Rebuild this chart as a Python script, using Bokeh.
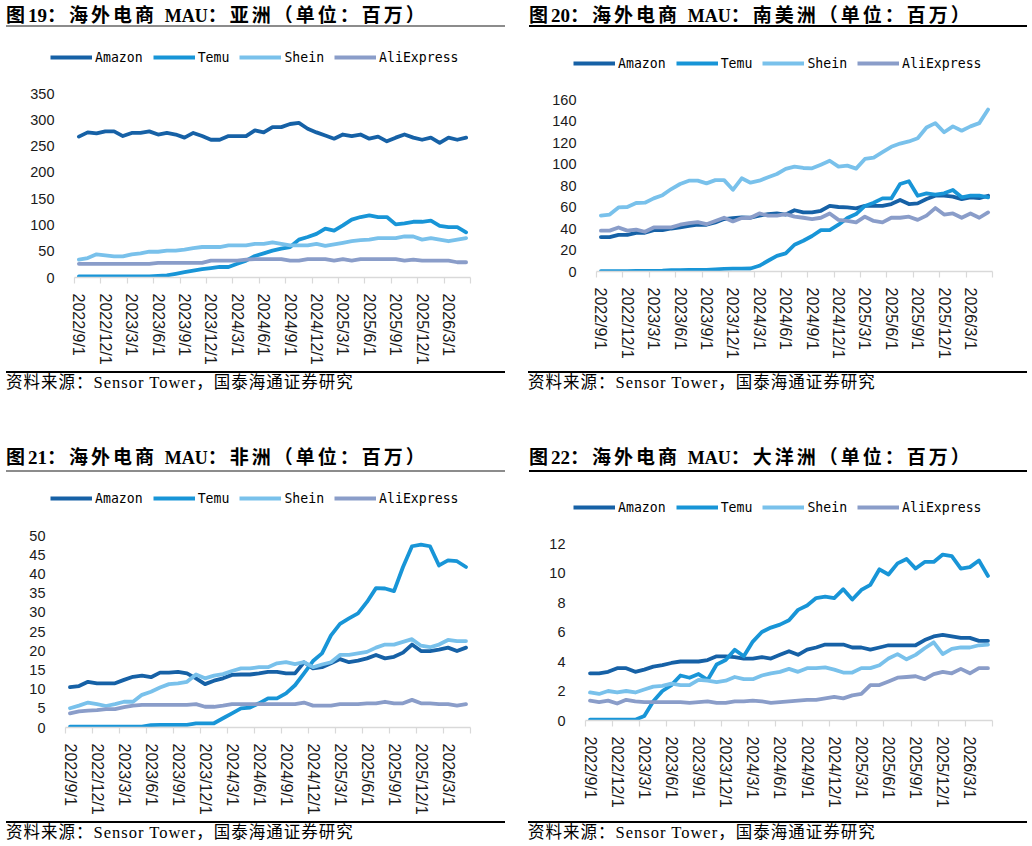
from bokeh.plotting import figure
from bokeh.models import Range1d, FixedTicker, Legend, LegendItem, Div, Spacer, ColumnDataSource
from bokeh.layouts import column, row
from bokeh.embed import file_html
from bokeh.resources import INLINE

# ---------------- data ----------------
months = ["2022/9/1", "2022/10/1", "2022/11/1", "2022/12/1",
          "2023/1/1", "2023/2/1", "2023/3/1", "2023/4/1", "2023/5/1", "2023/6/1",
          "2023/7/1", "2023/8/1", "2023/9/1", "2023/10/1", "2023/11/1", "2023/12/1",
          "2024/1/1", "2024/2/1", "2024/3/1", "2024/4/1", "2024/5/1", "2024/6/1",
          "2024/7/1", "2024/8/1", "2024/9/1", "2024/10/1", "2024/11/1", "2024/12/1",
          "2025/1/1", "2025/2/1", "2025/3/1", "2025/4/1", "2025/5/1", "2025/6/1",
          "2025/7/1", "2025/8/1", "2025/9/1", "2025/10/1", "2025/11/1", "2025/12/1",
          "2026/1/1", "2026/2/1", "2026/3/1", "2026/4/1", "2026/5/1"]

series_names = ["Amazon", "Temu", "Shein", "AliExpress"]

asia_amazon = [268, 276, 274, 278, 278, 269, 275, 275, 278, 272, 275, 272, 266, 275, 269,
               262, 262, 269, 269, 269, 280, 276, 286, 286, 292, 294, 283, 276, 270, 264,
               272, 269, 272, 264, 268, 259, 266, 272, 266, 262, 266, 256, 266, 262, 266]
asia_temu = [2, 2, 2, 2, 2, 2, 2, 2, 2, 3, 4, 7, 10, 13, 16,
             18, 20, 20, 26, 32, 41, 46, 51, 55, 58, 72, 77, 83, 93, 89,
             99, 110, 115, 118, 115, 115, 101, 103, 106, 106, 108, 98, 96, 96, 86]
asia_shein = [34, 37, 44, 42, 40, 40, 44, 46, 49, 49, 51, 51, 53, 56, 58,
              58, 58, 61, 61, 61, 64, 64, 67, 64, 61, 61, 61, 64, 60, 63,
              66, 69, 71, 72, 75, 75, 75, 78, 78, 72, 75, 72, 69, 72, 75]
asia_ali = [26, 26, 26, 26, 26, 26, 26, 26, 26, 28, 28, 28, 28, 28, 28,
            32, 32, 32, 32, 34, 35, 35, 35, 35, 32, 32, 35, 35, 35, 32,
            35, 32, 35, 35, 35, 35, 35, 32, 34, 32, 32, 32, 32, 29, 29]

sa_amazon = [32, 32, 34, 34, 36, 36, 38.5, 38.5, 40, 41, 42.5, 43.5, 43.5, 45.7, 48.8,
             49.7, 50.3, 50, 52, 53.4, 54, 53, 57, 55, 55, 56.5, 61, 60, 59.6, 58.7,
             61, 61, 61, 62.7, 66.5, 62.7, 63.4, 67.4, 70.5, 70.5, 69.6, 67.4, 69, 68.3, 70.5]
sa_temu = [0.3, 0.3, 0.3, 0.4, 0.5, 0.5, 0.6, 0.8, 1.2, 1.3, 1.4, 1.5, 1.6, 2, 2.5,
           2.6, 2.7, 2.8, 5.3, 10, 14.6, 16.8, 24.9, 28.6, 33, 38.5, 38.5, 43.5, 49.7, 53.4,
           61, 64, 68, 68, 81.4, 84, 70.5, 72.7, 71.5, 72.7, 75.8, 69, 70.5, 70.5, 69]
sa_shein = [52, 53, 59.6, 60, 63.7, 64, 68, 71, 76.7, 81.4, 84.5, 84.5, 82, 85, 85,
            76, 86.7, 82.6, 84.5, 87.6, 90.7, 95.4, 97.5, 96.3, 96, 99.4, 103, 97.5, 98.5, 95.7,
            104.7, 106, 111, 116, 119, 121, 124, 134, 138, 129.5, 135, 131, 135, 138, 150.7]
sa_ali = [38, 38, 41, 38, 39, 37, 41, 41, 41, 43.5, 45, 46, 44, 47, 50,
          46.6, 49.7, 50, 54, 52, 52, 53.4, 51, 50, 48.8, 50, 54, 48, 47, 45.7,
          51, 47, 45.7, 50, 50, 51, 48, 52, 59, 53, 54, 50, 54, 50, 55]

af_amazon = [10.5, 10.8, 11.9, 11.5, 11.5, 11.5, 12.4, 13.2, 13.5, 13.1, 14.3, 14.3, 14.5, 14.1, 12.8,
             11.3, 12.2, 12.8, 13.7, 13.8, 13.8, 14.1, 14.5, 14.5, 14.1, 14.1, 17, 15.4, 15.7, 16.7,
             17.8, 17, 17.4, 18, 18.9, 18, 18.4, 19.5, 21.6, 19.9, 19.9, 20.3, 20.8, 19.9, 20.8]
af_temu = [0.2, 0.2, 0.2, 0.2, 0.2, 0.2, 0.2, 0.2, 0.2, 0.6, 0.7, 0.7, 0.7, 0.7, 1.1,
           1.1, 1.1, 2.4, 3.7, 5, 5.2, 6.3, 7.6, 7.6, 8.9, 11, 14.1, 17.3, 19.3, 24,
           27, 28.4, 29.7, 32.7, 36.3, 36.2, 35.5, 41.8, 47.2, 47.6, 47.2, 42.2, 43.5, 43.3, 41.8]
af_shein = [5, 5.7, 6.5, 6.1, 5.6, 6.1, 6.7, 6.7, 8.5, 9.3, 10.4, 11.3, 11.5, 11.9, 13.8,
            12.8, 13.5, 13.9, 14.7, 15.4, 15.4, 15.7, 15.7, 16.7, 17, 16.5, 17, 15.7, 16.4, 17,
            18.9, 18.9, 19.3, 19.7, 20.8, 21.6, 21.6, 22.3, 23, 21.3, 20.9, 21.6, 22.8, 22.5, 22.5]
af_ali = [3.7, 4.2, 4.4, 4.5, 4.8, 4.8, 5.3, 5.7, 5.9, 5.9, 5.9, 5.9, 5.9, 5.9, 6.1,
          5.4, 5.4, 5.7, 6.1, 6.1, 6.1, 6.1, 6.1, 6.1, 6.1, 6.1, 6.5, 5.7, 5.7, 5.7,
          6.1, 6.1, 6.1, 6.3, 6.3, 6.7, 6.3, 6.3, 7.2, 6.3, 6.3, 6.1, 6.1, 5.7, 6.1]

oc_amazon = [3.2, 3.2, 3.3, 3.55, 3.55, 3.3, 3.45, 3.65, 3.75, 3.9, 4, 4, 4, 4.1, 4.35,
             4.35, 4.3, 4.2, 4.2, 4.3, 4.2, 4.45, 4.7, 4.45, 4.8, 4.95, 5.15, 5.15, 5.15, 4.95,
             4.95, 4.8, 4.95, 5.1, 5.1, 5.1, 5.1, 5.45, 5.7, 5.8, 5.7, 5.6, 5.6, 5.4, 5.4]
oc_temu = [0.05, 0.05, 0.05, 0.05, 0.05, 0.05, 0.3, 1.3, 2, 2.4, 3.05, 2.9, 3.15, 2.75, 3.8,
           4.1, 4.8, 4.35, 5.35, 6, 6.3, 6.5, 6.8, 7.5, 7.8, 8.3, 8.4, 8.3, 8.9, 8.2,
           8.85, 9.2, 10.25, 9.9, 10.65, 10.95, 10.3, 10.75, 10.75, 11.25, 11.15, 10.3, 10.4, 10.85, 9.8]
oc_shein = [1.9, 1.8, 2, 1.9, 2, 1.9, 2.1, 2.3, 2.35, 2.5, 2.4, 2.4, 2.75, 2.7, 2.6,
            2.7, 2.95, 2.8, 2.8, 3.05, 3.2, 3.3, 3.5, 3.3, 3.55, 3.55, 3.6, 3.45, 3.25, 3.25,
            3.55, 3.55, 3.75, 4.2, 4.5, 4.15, 4.45, 4.9, 5.3, 4.5, 4.85, 4.95, 4.95, 5.1, 5.15]
oc_ali = [1.35, 1.25, 1.35, 1.15, 1.4, 1.3, 1.25, 1.25, 1.25, 1.25, 1.25, 1.2, 1.25, 1.3, 1.2,
          1.2, 1.3, 1.3, 1.35, 1.3, 1.2, 1.25, 1.3, 1.35, 1.4, 1.4, 1.5, 1.6, 1.5, 1.7,
          1.8, 2.4, 2.4, 2.65, 2.9, 2.95, 3, 2.8, 3.15, 3.3, 3.2, 3.5, 3.2, 3.55, 3.55]

asia_ticks = [0, 50, 100, 150, 200, 250, 300, 350]
sa_ticks = [0, 20, 40, 60, 80, 100, 120, 140, 160]
af_ticks = [0, 5, 10, 15, 20, 25, 30, 35, 40, 45, 50]
oc_ticks = [0, 2, 4, 6, 8, 10, 12]

titles = [("19", "亚洲"), ("20", "南美洲"), ("21", "非洲"), ("22", "大洋洲")]
source_text = "资料来源：Sensor Tower，国泰海通证券研究"

# ---------------- style ----------------
COLORS = ["#1661a6", "#1895d7", "#79c1eb", "#8a9dc9"]
LINE_W = 3.8
AXIS_GRAY = "#d9d9d9"
TICK_FONT = "Liberation Sans"
CJK = "'Liberation Serif','Noto Sans CJK SC',serif"


def make_source(vals):
    data = {"x": list(range(len(months))), "month": months}
    for name, v in zip(series_names, vals):
        data[name] = v
    return ColumnDataSource(data)


def legend_fig(src, height, loc):
    """A strip above the chart that carries only the legend."""
    lp = figure(width=516, height=height, x_range=Range1d(-0.5, len(months) - 0.5),
                y_range=Range1d(0, 1),
                output_backend="svg", toolbar_location=None,
                x_axis_type=None, y_axis_type=None, frame_align=False,
                min_border_left=0, min_border_right=0, min_border_top=0, min_border_bottom=0)
    lp.outline_line_color = None
    lp.xgrid.visible = False
    lp.ygrid.visible = False
    items = []
    for name, c in zip(series_names, COLORS):
        r = lp.line("x", name, source=src, line_color=c, line_width=LINE_W,
                    line_cap="butt", visible=False)
        items.append(LegendItem(label=name, renderers=[r]))
    leg = Legend(items=items, orientation="horizontal", location=loc,
                 glyph_width=42, glyph_height=16, label_standoff=3, spacing=10,
                 padding=0, margin=0, border_line_color=None,
                 background_fill_alpha=0, inactive_fill_alpha=0,
                 label_text_font="DejaVu Sans Mono", label_text_font_size="13.2px",
                 label_text_color="#000000", label_height=16)
    lp.add_layout(leg)
    return lp


def make_fig(src, yticks, height, left, right, top, bottom):
    p = figure(width=516, height=height,
               x_range=Range1d(-0.5, len(months) - 0.5),
               y_range=Range1d(yticks[0], yticks[-1]),
               output_backend="svg", toolbar_location=None, frame_align=False,
               min_border_left=left, min_border_right=right,
               min_border_top=top, min_border_bottom=bottom)
    p.outline_line_color = None
    p.xgrid.visible = False
    p.ygrid.visible = False

    for name, c in zip(series_names, COLORS):
        p.line("x", name, source=src, line_color=c, line_width=LINE_W,
               line_join="round", line_cap="round")

    # y axis
    ya = p.yaxis[0]
    ya.ticker = FixedTicker(ticks=yticks)
    ya.axis_line_color = None
    ya.major_tick_line_color = None
    ya.minor_tick_line_color = None
    ya.major_tick_out = 0
    ya.major_tick_in = 0
    ya.major_label_standoff = 20
    ya.major_label_text_font = TICK_FONT
    ya.major_label_text_font_size = "14.5px"
    ya.major_label_text_color = "#1a1a1a"

    # x axis: labels every 3 months, tick marks between categories
    xa = p.xaxis[0]
    lab_pos = list(range(0, len(months), 3))
    xa.ticker = FixedTicker(ticks=lab_pos,
                            minor_ticks=[i - 0.5 for i in range(0, len(months) + 1, 3)])
    xa.major_label_overrides = {i: months[i] for i in lab_pos}
    xa.major_label_orientation = "vertical"
    xa.major_tick_line_color = None
    xa.major_tick_out = 0
    xa.major_tick_in = 0
    xa.minor_tick_line_color = AXIS_GRAY
    xa.minor_tick_out = 6
    xa.minor_tick_in = 0
    xa.minor_tick_line_width = 1.2
    xa.axis_line_color = AXIS_GRAY
    xa.axis_line_width = 1.5
    xa.major_label_standoff = 10
    xa.major_label_text_font = TICK_FONT
    xa.major_label_text_font_size = "16px"
    xa.major_label_text_color = "#1a1a1a"
    return p


def title_div(num, region, ml, w, h, pad, line_color):
    inner = h - 2 - pad
    text = (f'图<span style="letter-spacing:0px;">{num}</span>：海外电商 '
            f'<span style="font-size:18px;letter-spacing:0px;">MAU</span>'
            f'：{region}（单位：百万）')
    html = (f'<div style="margin-left:{ml}px;width:{w}px;height:{inner}px;padding-top:{pad}px;'
            f'border-bottom:2px solid {line_color};font-family:{CJK};font-weight:bold;'
            f'font-size:19px;line-height:{inner}px;white-space:nowrap;color:#000;'
            f'letter-spacing:3px;">{text}</div>')
    return Div(text=html, width=516, height=h, margin=(0, 0, 0, 0))


def source_div(ml, w, h):
    html = (f'<div style="margin-left:{ml}px;width:{w}px;margin-top:2px;border-top:2px solid #000;'
            f'font-family:{CJK};font-size:16.5px;line-height:20px;white-space:nowrap;color:#000;'
            f'letter-spacing:1px;">{source_text}</div>')
    return Div(text=html, width=516, height=h, margin=(0, 0, 0, 0))


s1 = make_source([asia_amazon, asia_temu, asia_shein, asia_ali])
s2 = make_source([sa_amazon, sa_temu, sa_shein, sa_ali])
s3 = make_source([af_amazon, af_temu, af_shein, af_ali])
s4 = make_source([oc_amazon, oc_temu, oc_shein, oc_ali])

l1 = legend_fig(s1, 44, (50, 10))
f1 = make_fig(s1, asia_ticks, 294, 74, 46, 18, 92)
l2 = legend_fig(s2, 44, (57, 4))
f2 = make_fig(s2, sa_ticks, 294, 80, 40, 24, 98)
l3 = legend_fig(s3, 44, (50, 12))
f3 = make_fig(s3, af_ticks, 301, 65, 46, 17, 92)
l4 = legend_fig(s4, 44, (57, 3))
f4 = make_fig(s4, oc_ticks, 301, 69, 40, 25, 99)

left = column(
    title_div(*titles[0], 6, 499, 31, 2, "#8c8c8c"),
    l1, f1,
    source_div(6, 499, 26),
    Spacer(width=516, height=49),
    title_div(*titles[2], 6, 499, 30, 0, "#8c8c8c"),
    l3, f3,
    source_div(6, 499, 27),
    spacing=0)
right = column(
    title_div(*titles[1], 13, 498, 31, 2, "#000000"),
    l2, f2,
    source_div(12, 499, 26),
    Spacer(width=516, height=49),
    title_div(*titles[3], 13, 498, 30, 0, "#000000"),
    l4, f4,
    source_div(12, 499, 27),
    spacing=0)

layout = row(left, right, spacing=0)

open("out.html", "w").write(file_html(layout, INLINE, "海外电商 MAU"))
